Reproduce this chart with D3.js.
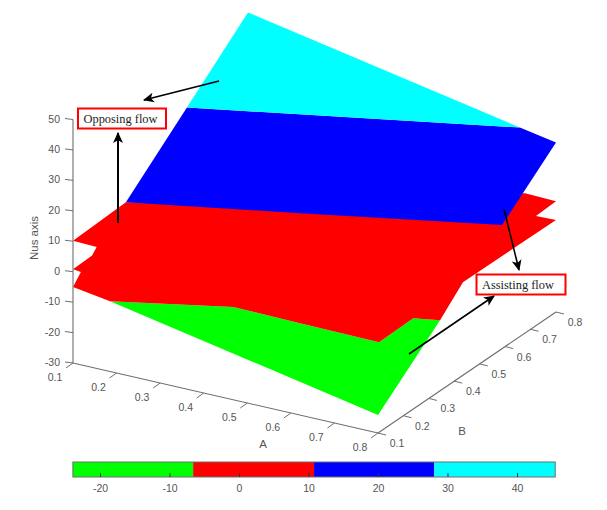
<!DOCTYPE html>
<meta charset="utf-8">
<script src="https://d3js.org/d3.v7.min.js"></script>
<style>
    body { margin: 0; background: #fff; }
    text { font-family: "Liberation Sans", Arial, sans-serif; font-size: 10.5px; fill: #555; }
    .lab { font-size: 11.5px; }
    .note { font-family: "Liberation Serif", serif; font-size: 12.4px; fill: #222; }
</style>
<div id="vis"></div>
<script>
    // surface bands, each vertex is [A, B, Nus]
    var cyanBand = [[0.1, 0.788, 46.1], [0.717, 0.8, 27.9], [0.1, 0.548, 28.5]];
    var blueBand = [[0.1, 0.548, 28.5], [0.717, 0.8, 27.9], [0.8, 0.8, 25.7], [0.8, 0.588, 10.6],
        [0.423, 0.44, 10.5], [0.1, 0.308, 11]];
    // the red band runs on under the blue one, so no seam shows
    var redBand = [[0.1, 0.308, 11], [0.1, 0.1, 10.2], [0.1, 0.193, 2.8], [0.1, 0.175, 1.1], [0.1, 0.1, 0.8],
        [0.1, 0.131, -1.9], [0.1, 0.1, -5], [0.185, 0.1, -6.9], [0.415, 0.19, -6.4], [0.57, 0.187, -6.4],
        [0.754, 0.183, -6.4], [0.752, 0.321, -6.4], [0.8, 0.344, -6.8], [0.8, 0.434, 0.6], [0.8, 0.8, 0.2],
        [0.754, 0.8, 0], [0.8, 0.8, 6.4], [0.729, 0.8, 6.7], [0.7, 0.65, 14], [0.423, 0.44, 14]];
    var greenBand = [[0.185, 0.1, -6.9], [0.415, 0.19, -6.4], [0.57, 0.187, -6.4], [0.754, 0.183, -6.4],
        [0.752, 0.321, -6.4], [0.8, 0.344, -6.8], [0.8, 0.1, -24.1]];

    var nusTicks = [-30, -20, -10, 0, 10, 20, 30, 40, 50];
    var abTicks = [0.1, 0.2, 0.3, 0.4, 0.5, 0.6, 0.7, 0.8];
    var barEdges = [-23.9, -6.6, 10.8, 28.1, 45.5];
    var barColors = ["#00ff00", "#ff0000", "#0000ff", "#00ffff"];
    var barTicks = [-20, -10, 0, 10, 20, 30, 40];

    var wid = 607, hgt = 510;

    var svg = d3.select("#vis")
        .append("svg")
        .attr("width", wid)
        .attr("height", hgt);

    // oblique projection: every axis adds its own pixel offset to the corner
    var org = { x: 73, y: 363 };
    var aX = d3.scaleLinear().domain([0.1, 0.8]).range([0, 305]),
        aY = d3.scaleLinear().domain([0.1, 0.8]).range([0, 70]),
        bX = d3.scaleLinear().domain([0.1, 0.8]).range([0, 178]),
        bY = d3.scaleLinear().domain([0.1, 0.8]).range([0, -121]),
        nY = d3.scaleLinear().domain([-30, 50]).range([0, -243.5]);

    function proj(a, b, n) {
        return [org.x + aX(a) + bX(b), org.y + aY(a) + bY(b) + nY(n)];
    }

    // surface
    var bands = [
        { pts: greenBand, col: barColors[0] },
        { pts: redBand, col: barColors[1] },
        { pts: blueBand, col: barColors[2] },
        { pts: cyanBand, col: barColors[3] }
    ];
    svg.append("g")
        .selectAll("polygon")
        .data(bands)
        .enter()
        .append("polygon")
        .attr("points", function (d) {
            return d.pts.map(function (p) { return proj(p[0], p[1], p[2]).join(","); }).join(" ");
        })
        .style("fill", function (d) { return d.col; });

    // axes
    var axisCol = "#6e6e6e";
    function line(g, p, q, w) {
        g.append("line")
            .attr("x1", p[0]).attr("y1", p[1])
            .attr("x2", q[0]).attr("y2", q[1])
            .attr("stroke", axisCol)
            .attr("stroke-width", w);
    }
    var ax = svg.append("g");
    line(ax, proj(0.1, 0.1, -30), proj(0.1, 0.1, 50), 1.1);
    line(ax, proj(0.1, 0.1, -30), proj(0.8, 0.1, -30), 1.1);
    line(ax, proj(0.8, 0.1, -30), proj(0.8, 0.8, -30), 1.1);

    nusTicks.forEach(function (t) {
        var p = proj(0.1, 0.1, t);
        line(ax, p, [p[0] - 8, p[1] - 1], 1);
        ax.append("text")
            .attr("x", p[0] - 13)
            .attr("y", p[1] + 3)
            .style("text-anchor", "end")
            .text(t);
    });
    abTicks.forEach(function (t) {
        var p = proj(t, 0.1, -30);
        line(ax, p, [p[0] - 7, p[1] + 5], 1);
        ax.append("text")
            .attr("x", p[0] - 18)
            .attr("y", p[1] + 18)
            .style("text-anchor", "middle")
            .text(t.toFixed(1));
        var q = proj(0.8, t, -30);
        line(ax, q, [q[0] + 8, q[1] + 2], 1);
        ax.append("text")
            .attr("x", q[0] + 19)
            .attr("y", q[1] + 14)
            .style("text-anchor", "middle")
            .text(t.toFixed(1));
    });

    // axes labels
    svg.append("text").attr("class", "lab").attr("x", 263).attr("y", 448).style("text-anchor", "middle").text("A");
    svg.append("text").attr("class", "lab").attr("x", 462).attr("y", 435).style("text-anchor", "middle").text("B");
    svg.append("text")
        .attr("class", "lab")
        .attr("transform", "translate(38,238) rotate(-90)")
        .style("text-anchor", "middle")
        .text("Nus axis");

    // colorbar
    var bar = { top: 462, hgt: 15 };
    var barX = d3.scaleLinear().domain([-20, 40]).range([100, 517]);
    var cb = svg.append("g");
    cb.selectAll("rect")
        .data(barColors)
        .enter()
        .append("rect")
        .attr("x", function (d, i) { return barX(barEdges[i]); })
        .attr("y", bar.top)
        .attr("width", function (d, i) { return barX(barEdges[i + 1]) - barX(barEdges[i]); })
        .attr("height", bar.hgt)
        .style("fill", function (d) { return d; });
    cb.append("rect")
        .attr("x", barX(barEdges[0]))
        .attr("y", bar.top)
        .attr("width", barX(barEdges[4]) - barX(barEdges[0]))
        .attr("height", bar.hgt)
        .style("fill", "none")
        .attr("stroke", axisCol);
    var barAxis = cb.append("g")
        .attr("transform", "translate(0," + (bar.top + bar.hgt) + ")")
        .call(d3.axisBottom(barX)
            .tickValues(barTicks)
            .tickFormat(function (d) { return String(d); })
            .tickSizeInner(-4)
            .tickSizeOuter(0)
            .tickPadding(8));
    barAxis.select(".domain").remove();
    barAxis.selectAll("line").attr("stroke", "#333");
    barAxis.attr("font-family", null).attr("font-size", null);

    // arrow annotations, in page pixels
    svg.append("defs").append("marker")
        .attr("id", "head")
        .attr("viewBox", "0 0 10 10")
        .attr("refX", 9).attr("refY", 5)
        .attr("markerUnits", "userSpaceOnUse")
        .attr("markerWidth", 11).attr("markerHeight", 11)
        .attr("orient", "auto")
        .append("path")
        .attr("d", "M0,0.5 L10,5 L0,9.5 L2.5,5 Z")
        .style("fill", "#000");
    var arrows = [
        { x1: 219, y1: 81, x2: 144, y2: 100, w: 1.6 },
        { x1: 118, y1: 223, x2: 118, y2: 133, w: 2 },
        { x1: 504, y1: 209, x2: 519, y2: 270, w: 1.6 },
        { x1: 409, y1: 354, x2: 494, y2: 296, w: 1.6 }
    ];
    svg.append("g")
        .selectAll("line")
        .data(arrows)
        .enter()
        .append("line")
        .attr("x1", function (d) { return d.x1; })
        .attr("y1", function (d) { return d.y1; })
        .attr("x2", function (d) { return d.x2; })
        .attr("y2", function (d) { return d.y2; })
        .attr("stroke", "#000")
        .attr("stroke-width", function (d) { return d.w; })
        .attr("marker-end", "url(#head)");

    // note boxes
    var notes = [
        { txt: "Opposing flow", x: 78, y: 108.5, w: 88, h: 20 },
        { txt: "Assisting flow", x: 476.5, y: 274.5, w: 89, h: 20 }
    ];
    notes.forEach(function (d) {
        svg.append("rect")
            .attr("x", d.x).attr("y", d.y)
            .attr("width", d.w).attr("height", d.h)
            .style("fill", "#fff")
            .attr("stroke", "#f00")
            .attr("stroke-width", 2);
        svg.append("text")
            .attr("class", "note")
            .attr("x", d.x + 5.5)
            .attr("y", d.y + 14.5)
            .text(d.txt);
    });
</script>
